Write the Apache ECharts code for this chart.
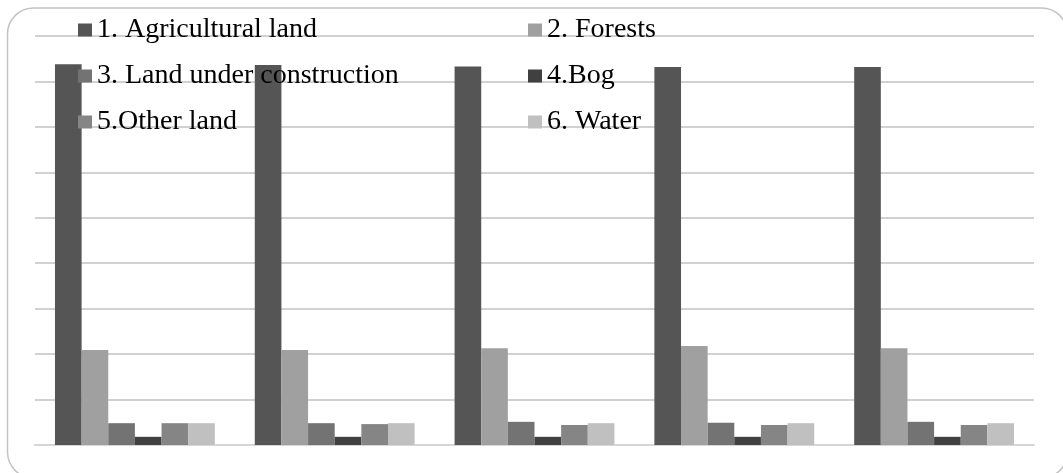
<!DOCTYPE html>
<html>
<head>
<meta charset="utf-8">
<script src="https://cdn.jsdelivr.net/npm/echarts@6/dist/echarts.min.js"></script>
<style>
html,body{margin:0;padding:0;background:#fff;}
#chart{width:1063px;height:473px;}
</style>
</head>
<body>
<div id="chart"></div>
<script>
var categories = ['1', '2', '3', '4', '5'];
var seriesNames = ['1. Agricultural land', '2. Forests', '3. Land under construction', '4.Bog', '5.Other land', '6. Water'];
var agricultural = [8.38, 8.36, 8.33, 8.32, 8.32];
var forests = [2.09, 2.09, 2.13, 2.18, 2.13];
var construction = [0.48, 0.48, 0.51, 0.49, 0.51];
var bog = [0.18, 0.18, 0.18, 0.18, 0.18];
var otherLand = [0.48, 0.46, 0.44, 0.44, 0.44];
var water = [0.48, 0.48, 0.48, 0.48, 0.48];
var colors = ['#555555', '#a0a0a0', '#737373', '#404040', '#858585', '#c0c0c0'];

var allData = [agricultural, forests, construction, bog, otherLand, water];
var chart = echarts.init(document.getElementById('chart'));
var legendText = {fontFamily: 'Liberation Serif, Times New Roman, serif', fontSize: 28, color: '#000', lineHeight: 30};
var option = {
  animation: false,
  color: colors,
  graphic: [{
    type: 'rect',
    shape: {x: 7.5, y: 8, width: 1060, height: 470, r: 26},
    style: {fill: 'none', stroke: '#c4c4c4', lineWidth: 1.5},
    z: -1
  }],
  legend: [
    {
      orient: 'vertical', left: 78, top: 15, padding: 0, itemWidth: 14, itemHeight: 13, icon: 'rect',
      itemGap: 16, textStyle: legendText,
      data: [seriesNames[0], seriesNames[2], seriesNames[4]]
    },
    {
      orient: 'vertical', left: 528, top: 15, padding: 0, itemWidth: 14, itemHeight: 13, icon: 'rect',
      itemGap: 16, textStyle: legendText,
      data: [seriesNames[1], seriesNames[3], seriesNames[5]]
    }
  ],
  grid: {left: 35, right: 29, top: 36, bottom: 28, containLabel: false},
  xAxis: {
    type: 'category', data: categories,
    axisLine: {show: true, lineStyle: {color: '#d6d6d6', width: 2}},
    axisTick: {show: false}, axisLabel: {show: false}
  },
  yAxis: {
    type: 'value', min: 0, max: 9, interval: 1,
    axisLine: {show: false}, axisTick: {show: false}, axisLabel: {show: false},
    splitLine: {lineStyle: {color: '#c2c2c2', width: 1.5}}
  },
  series: seriesNames.map(function (n, i) {
    return {
      name: n, type: 'bar', data: allData[i],
      barGap: '0%', barCategoryGap: '20%',
      itemStyle: {color: colors[i]}
    };
  })
};
chart.setOption(option);
</script>
</body>
</html>
